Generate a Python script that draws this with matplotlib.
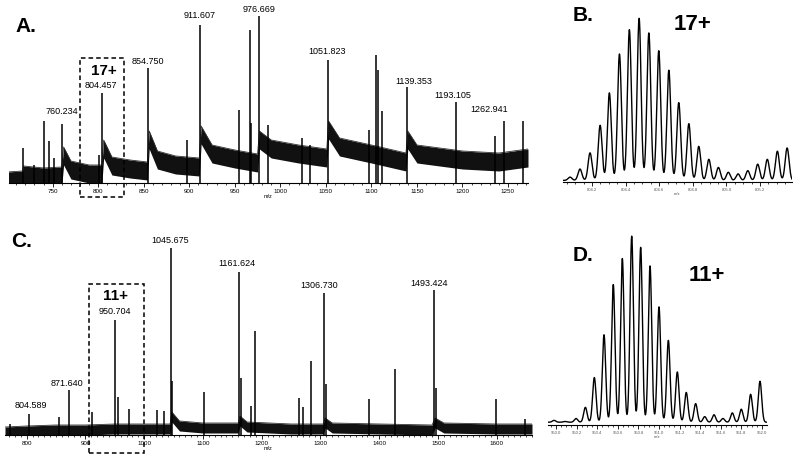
import numpy as np
import matplotlib.pyplot as plt
from matplotlib.patches import Rectangle
from matplotlib.ticker import MultipleLocator, FormatStrFormatter

plt.rcParams['font.family'] = ['Liberation Sans', 'DejaVu Sans']

# ---- panel A: full spectrum, 17+ series ----
a_peak_mz = [717.6, 729.8, 740.4, 746.0, 751.4, 760.234, 800.5, 804.457, 854.750,
             897.0, 911.607, 954.9, 966.3, 968.0, 976.669, 986.3, 1023.6, 1033.0,
             1051.823, 1097.8, 1105.5, 1107.2, 1111.2, 1139.353, 1193.105, 1236.3,
             1245.6, 1266.0]
a_peak_h = [35, 18, 62, 42, 25, 59, 28, 90, 115, 43, 158, 73, 153, 60, 167, 58, 45, 38,
            123, 53, 128, 113, 72, 96, 81, 47, 62, 62]
a_base_mz = [700, 717, 718, 740, 760, 762, 770, 790, 804, 806, 815, 835, 854, 856, 865,
             885, 911, 913, 925, 950, 975, 977, 990, 1020, 1051, 1053, 1065, 1100, 1138,
             1140, 1150, 1200, 1240, 1272]
a_base_h = [2, 3, 8, 6, 7, 27, 13, 9, 9, 34, 17, 14, 12, 43, 23, 18, 16, 48, 29, 24, 20,
            43, 34, 29, 25, 53, 36, 29, 21, 43, 29, 23, 21, 25]
a_labels = ['760.234', '804.457', '854.750', '911.607', '976.669', '1051.823',
            '1139.353', '1193.105', '1262.941']

# ---- panel B: 17+ isotope envelope ----
b_mz = [804.069, 804.128, 804.188, 804.248, 804.303, 804.363, 804.422, 804.480, 804.538,
        804.597, 804.657, 804.716, 804.776, 804.835, 804.895, 804.952, 805.011, 805.069,
        805.127, 805.186, 805.243, 805.303, 805.361]
b_int = [2, 7, 17, 34, 54, 78, 93, 100, 91, 80, 68, 48, 35, 21, 13, 8, 5, 4, 6, 10, 13,
         18, 20]

# ---- panel C: full spectrum, 11+ series ----
c_peak_mz = [771, 804.589, 855.7, 871.640, 910.8, 950.704, 954.5, 974.8, 1021, 1033,
             1045.675, 1048, 1101.5, 1161.624, 1164, 1181, 1188.6, 1263, 1270, 1283.6,
             1306.730, 1309, 1383, 1426, 1493.424, 1496, 1598, 1648.7]
c_peak_h = [11, 21, 18, 45, 23, 115, 38, 26, 25, 24, 187, 54, 43, 163, 57, 29, 104, 37,
            28, 74, 142, 51, 36, 66, 145, 47, 36, 16]
c_base_mz = [763, 800, 850, 900, 950, 1000, 1044, 1047, 1060, 1100, 1160, 1163, 1175,
             1250, 1305, 1308, 1320, 1400, 1490, 1495, 1510, 1600, 1660]
c_base_h = [3, 4, 5, 5, 6, 6, 6, 18, 9, 7, 7, 14, 8, 6, 6, 12, 7, 6, 5, 12, 7, 6, 6]
c_labels = ['804.589', '871.640', '950.704', '1045.675', '1161.624', '1306.730',
            '1493.424']

# ---- panel D: 11+ isotope envelope ----
d_mz = [949.981, 950.087, 950.194, 950.285, 950.372, 950.466, 950.556, 950.644, 950.735,
        950.822, 950.913, 951.000, 951.091, 951.178, 951.265, 951.356, 951.444, 951.534,
        951.621, 951.712, 951.799, 951.890, 951.981]
d_int = [1, 0.4, 2, 8, 24, 47, 74, 88, 100, 94, 84, 62, 44, 27, 16, 10, 3, 4, 2, 5, 7,
         15, 22]

W, H = 800, 459
fig = plt.figure(figsize=(W / 100, H / 100), dpi=100)


def px_axes(x0, y0, x1, y1):
    return fig.add_axes([x0 / W, 1 - y1 / H, (x1 - x0) / W, (y1 - y0) / H])


def style(ax, xlim, ylim, major, minor, fs, fmt=None, col='k'):
    ax.set_xlim(xlim)
    ax.set_ylim(ylim)
    for s in ['left', 'right', 'top']:
        ax.spines[s].set_visible(False)
    ax.spines['bottom'].set_linewidth(0.8)
    ax.set_yticks([])
    ax.xaxis.set_major_locator(MultipleLocator(major))
    ax.xaxis.set_minor_locator(MultipleLocator(minor))
    if fmt:
        ax.xaxis.set_major_formatter(FormatStrFormatter(fmt))
    ax.tick_params(axis='x', which='major', length=3, width=0.6, labelsize=fs, pad=1,
                   labelcolor=col)
    ax.tick_params(axis='x', which='minor', length=1.5, width=0.5)
    ax.patch.set_alpha(0)


def spectrum(ax, base_mz, base_h, noise, peak_mz, peak_h):
    b = np.array(base_h, dtype=float)
    ax.fill_between(base_mz, b - noise, b + noise, color='#111111', lw=0)
    ax.plot(base_mz, b + noise, color='#333333', lw=0.6)
    ax.vlines(peak_mz, 0, peak_h, color='k', lw=1.1)


def envelope(ax, mz, inten, sigma, base):
    x = np.linspace(ax.get_xlim()[0], ax.get_xlim()[1], 4000)
    y = np.full_like(x, base)
    for c, h in zip(mz, inten):
        y += h * np.exp(-0.5 * ((x - c) / sigma) ** 2)
    ax.plot(x, y, color='k', lw=1.0)


# panel A
axA = px_axes(9, 0, 528, 183)
style(axA, (702, 1272), (0, 183), 50, 10, 4.5)
spectrum(axA, a_base_mz, a_base_h, 9, a_peak_mz, a_peak_h)
axA.set_xlabel('m/z', fontsize=4, labelpad=0.5)
a_lab_pos = [(760.2, 72), (802.8, 97), (854.4, 122), (911.5, 167), (976.9, 174),
             (1051, 131), (1146.2, 102), (1189.6, 88), (1229, 73)]
for s, (x, y) in zip(a_labels, a_lab_pos):
    axA.text(x, y, s, ha='center', va='center', fontsize=6.5)
axA.text(720.3, 157, 'A.', ha='center', va='center', fontsize=15, fontweight='bold')
axA.text(806.6, 112, '17+', ha='center', va='center', fontsize=11, fontweight='bold')
axA.add_patch(Rectangle((779.7, -14), 828 - 779.7, 125 + 14, fill=False, ls=(0, (3, 2)),
                        lw=1.1, ec='k', clip_on=False))

# panel B
axB = px_axes(563, 0, 792, 182)
style(axB, (804.027, 805.39), (0, 112.3), 0.2, 0.05, 3, '%.1f', '#555555')
envelope(axB, b_mz, b_int, 0.0115, 1)
axB.set_xlabel('m/z', fontsize=3, labelpad=0.5, color='#555555')
axB.text(804.146, 103, 'B.', ha='center', va='center', fontsize=15, fontweight='bold')
axB.text(804.80, 97, '17+', ha='center', va='center', fontsize=16, fontweight='bold')

# panel C
axC = px_axes(5, 225, 532, 435)
style(axC, (763, 1660), (0, 210), 100, 10, 4.5)
spectrum(axC, c_base_mz, c_base_h, 5, c_peak_mz, c_peak_h)
axC.set_xlabel('m/z', fontsize=4, labelpad=0.5)
c_lab_pos = [(806.3, 30), (869, 52), (950.4, 124), (1043.4, 195), (1157.8, 171),
             (1297, 150), (1485, 152)]
for s, (x, y) in zip(c_labels, c_lab_pos):
    axC.text(x, y, s, ha='center', va='center', fontsize=6.5)
axC.text(791.8, 194, 'C.', ha='center', va='center', fontsize=15, fontweight='bold')
axC.text(951.5, 139, '11+', ha='center', va='center', fontsize=11, fontweight='bold')
axC.add_patch(Rectangle((906, -18), 1000 - 906, 151 + 18, fill=False, ls=(0, (3, 2)),
                        lw=1.1, ec='k', clip_on=False))

# panel D
axD = px_axes(548, 225, 767, 425)
style(axD, (949.922, 952.049), (0, 107.5), 0.2, 0.05, 3, '%.1f', '#555555')
envelope(axD, d_mz, d_int, 0.0165, 1.5)
axD.set_xlabel('m/z', fontsize=3, labelpad=0.5, color='#555555')
axD.text(950.262, 91, 'D.', ha='center', va='center', fontsize=15, fontweight='bold')
axD.text(951.466, 80.6, '11+', ha='center', va='center', fontsize=16, fontweight='bold')

fig.savefig('out.png', dpi=100)
